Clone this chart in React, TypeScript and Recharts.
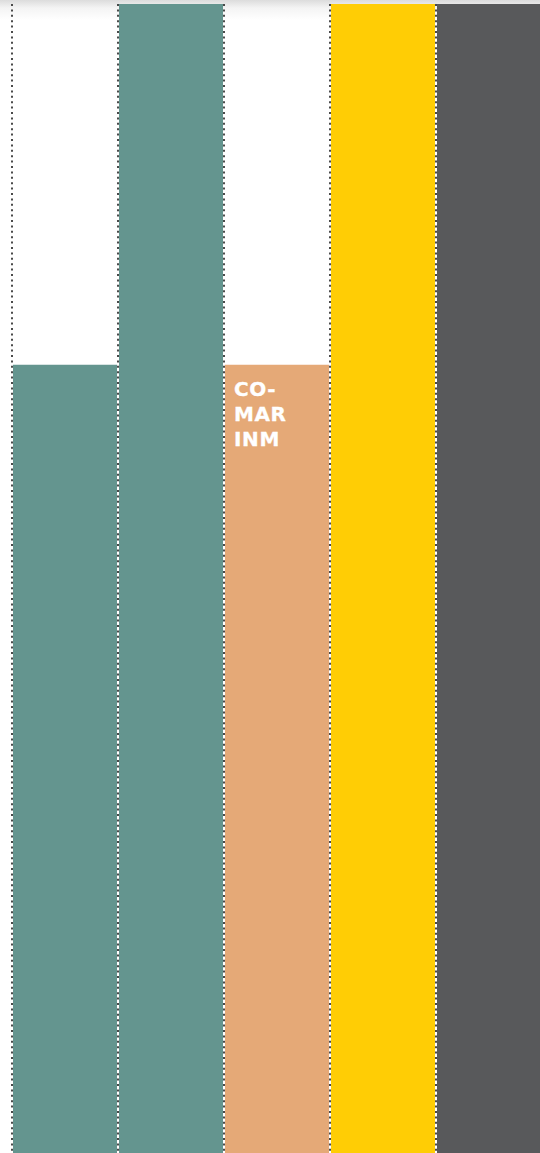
import React from "react";
import { BarChart, Bar, XAxis, YAxis, CartesianGrid, Cell, LabelList } from "recharts";

const categories = ["A", "B", "C", "D", "E"];
const values = [68.6, 100, 68.6, 100, 100];
const labels = ["", "", "CO-\nMAR\nINM", "", ""];
const colors = ["#64958f", "#64958f", "#e5a977", "#ffcd05", "#58595b"];

const data = categories.map((name, i) => ({
  name,
  value: values[i],
  label: labels[i],
}));

const MultiLineLabel = (props: any) => {
  const { x, y, value } = props;
  if (!value) return null;
  const lines = String(value).split("\n");
  return (
    <text
      x={Number(x) + 9}
      y={Number(y) + 31}
      fill="#ffffff"
      stroke="#ffffff"
      strokeWidth={0.3}
      fontFamily="'DejaVu Sans', sans-serif"
      fontWeight={700}
      fontSize={20}
      letterSpacing={0.6}
    >
      {lines.map((l, i) => (
        <tspan key={i} x={Number(x) + 9} dy={i === 0 ? 0 : 25}>
          {l}
        </tspan>
      ))}
    </text>
  );
};

const boundaryLines = ({ offset }: any) => {
  const n = categories.length;
  const step = offset.width / n;
  return Array.from({ length: n + 1 }, (_, i) => offset.left + i * step);
};

export default function App() {
  return (
    <div
      style={{
        position: "absolute",
        left: 0,
        top: 0,
        width: 540,
        height: 1153,
        overflow: "hidden",
        background: "linear-gradient(#dcdcdc 0px, #f4f4f4 8px, #ffffff 20px)",
      }}
    >
      <BarChart
        width={560}
        height={1153}
        data={data}
        margin={{ top: 4, right: 18, bottom: 0, left: 12 }}
        barCategoryGap={1}
      >
        <XAxis dataKey="name" hide />
        <YAxis hide domain={[0, 100]} />
        <CartesianGrid
          horizontal={false}
          vertical
          verticalCoordinatesGenerator={boundaryLines}
          stroke="#4a4a4a"
          strokeWidth={2}
          strokeDasharray="2 3.4"
        />
        <Bar dataKey="value" isAnimationActive={false}>
          {data.map((d, i) => (
            <Cell key={d.name} fill={colors[i]} />
          ))}
          <LabelList dataKey="label" content={MultiLineLabel} />
        </Bar>
      </BarChart>
    </div>
  );
}
